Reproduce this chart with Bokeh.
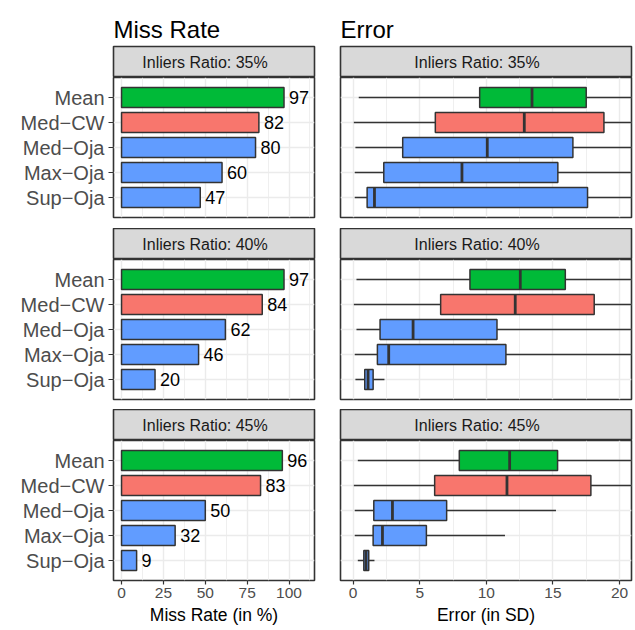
from bokeh.plotting import figure
from bokeh.layouts import gridplot
from bokeh.models import Range1d, FactorRange, FixedTicker, CategoricalTicker, ColumnDataSource
from bokeh.embed import file_html
from bokeh.resources import INLINE
from bokeh.core.properties import value

# ---- data -------------------------------------------------------------
methods = ["Mean", "Med−CW", "Med−Oja", "Max−Oja", "Sup−Oja"]
method_colors = ["#00BA38", "#F8766D", "#619CFF", "#619CFF", "#619CFF"]
ratio_labels = ["Inliers Ratio: 35%", "Inliers Ratio: 40%", "Inliers Ratio: 45%"]

# miss rate (in %) per method
miss_35 = [97, 82, 80, 60, 47]
miss_40 = [97, 84, 62, 46, 20]
miss_45 = [96, 83, 50, 32, 9]

# error (in SD): lower whisker, first quartile, median, third quartile, upper whisker
err_35_lo = [0.42, 0.05, 0.17, 0.12, 0.12]
err_35_q1 = [9.5, 6.17, 3.72, 2.3, 1.05]
err_35_med = [13.43, 12.85, 10.07, 8.17, 1.6]
err_35_q3 = [17.5, 18.83, 16.5, 15.37, 17.6]
err_35_hi = [29.5, 38.0, 35.0, 35.0, 42.0]

err_40_lo = [0.25, 0.05, 0.25, 0.12, 0.17]
err_40_q1 = [8.77, 6.57, 2.02, 1.82, 0.87]
err_40_med = [12.55, 12.17, 4.5, 2.67, 1.12]
err_40_q3 = [15.93, 18.1, 10.8, 11.47, 1.5]
err_40_hi = [27.0, 35.0, 24.0, 26.0, 2.35]

err_45_lo = [0.35, 0.05, 0.12, 0.12, 0.35]
err_45_q1 = [7.97, 6.12, 1.55, 1.5, 0.8]
err_45_med = [11.75, 11.55, 2.95, 2.2, 0.97]
err_45_q3 = [15.35, 17.85, 7.02, 5.5, 1.17]
err_45_hi = [26.0, 35.0, 15.23, 11.4, 1.6]

miss_ticks = [0, 25, 50, 75, 100]
miss_minor = [12.5, 37.5, 62.5, 87.5, 112.5]
err_ticks = [0, 5, 10, 15, 20]
err_minor = [2.5, 7.5, 12.5, 17.5]

# ---- styling ----------------------------------------------------------
FONT = "Liberation Sans"
INK = "#333333"
GRID = "#EBEBEB"
LEFT_FRAME_W, RIGHT_FRAME_W = 201, 291
PANEL_H, STRIP_H = 140, 31


def base_figure(frame_w, frame_h, left, right, top, bottom, **kw):
    p = figure(frame_width=frame_w, frame_height=frame_h,
               toolbar_location=None, output_backend="svg",
               min_border_left=left, min_border_right=right,
               min_border_top=top, min_border_bottom=bottom, **kw)
    p.outline_line_color = INK
    p.outline_line_width = 1.6
    p.background_fill_color = "white"
    p.border_fill_color = "white"
    return p


def strip(label, frame_w, left, right, top, heading=None):
    s = base_figure(frame_w, STRIP_H, left, right, top, 0,
                    x_range=Range1d(0, 1), y_range=Range1d(0, 1),
                    x_axis_location=None, y_axis_location=None)
    s.background_fill_color = "#D9D9D9"
    s.grid.visible = False
    s.text(x=[0.5], y=[0.5], text=[label], x_offset=-9, text_align="center",
           text_baseline="middle", text_font=value(FONT),
           text_font_size="16px", text_color="#1A1A1A")
    if heading:
        s.title.text = heading
        s.title.text_font = FONT
        s.title.text_font_size = "24px"
        s.title.text_font_style = "normal"
        s.title.text_color = "black"
        s.title.align = "left"
        s.title.offset = 0
        s.title.standoff = 8
    return s


def panel(frame_w, left, right, bottom, x_range, ticks, minor, xlabel, show_y):
    p = base_figure(frame_w, PANEL_H, left, right, 0, bottom,
                    x_range=x_range,
                    y_range=FactorRange(factors=methods[::-1], range_padding=0.3,
                                        range_padding_units="absolute"),
                    x_axis_location="below" if xlabel else None,
                    y_axis_location="left" if show_y else None)
    ticker = FixedTicker(ticks=ticks, minor_ticks=minor)
    p.xgrid.ticker = ticker
    p.ygrid.ticker = CategoricalTicker()
    p.xgrid.grid_line_color = GRID
    p.xgrid.grid_line_width = 1.4
    p.xgrid.minor_grid_line_color = GRID
    p.xgrid.minor_grid_line_width = 0.8
    p.ygrid.grid_line_color = GRID
    p.ygrid.grid_line_width = 1.4
    if xlabel:
        ax = p.xaxis[0]
        ax.ticker = ticker
        ax.axis_label = xlabel
        ax.axis_line_color = None
        ax.major_tick_out = 4
        ax.major_tick_in = 0
        ax.major_tick_line_color = INK
        ax.major_tick_line_width = 1.2
        ax.minor_tick_line_color = None
        ax.major_label_text_font = FONT
        ax.major_label_text_font_size = "15.5px"
        ax.major_label_text_color = "#4D4D4D"
        ax.major_label_standoff = 3
        ax.axis_label_text_font = FONT
        ax.axis_label_text_font_size = "17.5px"
        ax.axis_label_text_font_style = "normal"
        ax.axis_label_text_color = "black"
        ax.axis_label_standoff = 4
    if show_y:
        ay = p.yaxis[0]
        ay.axis_line_color = None
        ay.major_tick_out = 5
        ay.major_tick_in = 0
        ay.major_tick_line_color = INK
        ay.major_tick_line_width = 1.2
        ay.minor_tick_line_color = None
        ay.major_label_text_font = FONT
        ay.major_label_text_font_size = "20px"
        ay.major_label_text_color = "#4D4D4D"
        ay.major_label_standoff = 4
    return p


def bar_panel(vals, bottom, xlabel=None):
    p = panel(LEFT_FRAME_W, 113, 13, bottom, Range1d(-4.8, 115.2),
              miss_ticks, miss_minor, xlabel, True)
    src = ColumnDataSource(dict(method=methods, miss=vals, color=method_colors,
                                label=[str(v) for v in vals]))
    p.hbar(y="method", left=0, right="miss", height=0.8, source=src,
           fill_color="color", line_color=INK, line_width=1.5)
    p.text(x="miss", y="method", text="label", source=src, x_offset=5,
           text_align="left", text_baseline="middle", text_font=value(FONT),
           text_font_size="18px", text_color="black")
    return p


def box_panel(lo, q1, med, q3, hi, bottom, xlabel=None):
    p = panel(RIGHT_FRAME_W, 13, 4, bottom, Range1d(-0.95, 20.9),
              err_ticks, err_minor, xlabel, False)
    src = ColumnDataSource(dict(method=methods, lo=lo, q1=q1, med=med, q3=q3,
                                hi=hi, color=method_colors))
    p.segment(x0="lo", x1="q1", y0="method", y1="method", source=src,
              line_color=INK, line_width=1.3)
    p.segment(x0="q3", x1="hi", y0="method", y1="method", source=src,
              line_color=INK, line_width=1.3)
    p.hbar(y="method", left="q1", right="q3", height=0.8, source=src,
           fill_color="color", line_color=INK, line_width=1.5)
    p.hbar(y="method", left="med", right="med", height=0.8, source=src,
           fill_alpha=0, line_color=INK, line_width=2.8, line_join="miter")
    return p


rows = [
    [strip(ratio_labels[0], LEFT_FRAME_W, 113, 13, 46, "Miss Rate"),
     strip(ratio_labels[0], RIGHT_FRAME_W, 13, 4, 46, "Error")],
    [bar_panel(miss_35, 11),
     box_panel(err_35_lo, err_35_q1, err_35_med, err_35_q3, err_35_hi, 11)],
    [strip(ratio_labels[1], LEFT_FRAME_W, 113, 13, 0),
     strip(ratio_labels[1], RIGHT_FRAME_W, 13, 4, 0)],
    [bar_panel(miss_40, 10),
     box_panel(err_40_lo, err_40_q1, err_40_med, err_40_q3, err_40_hi, 10)],
    [strip(ratio_labels[2], LEFT_FRAME_W, 113, 13, 0),
     strip(ratio_labels[2], RIGHT_FRAME_W, 13, 4, 0)],
    [bar_panel(miss_45, 48, "Miss Rate (in %)"),
     box_panel(err_45_lo, err_45_q1, err_45_med, err_45_q3, err_45_hi, 48,
               "Error (in SD)")],
]

grid = gridplot(rows, toolbar_location=None)

with open("out.html", "w") as f:
    f.write(file_html(grid, INLINE))
